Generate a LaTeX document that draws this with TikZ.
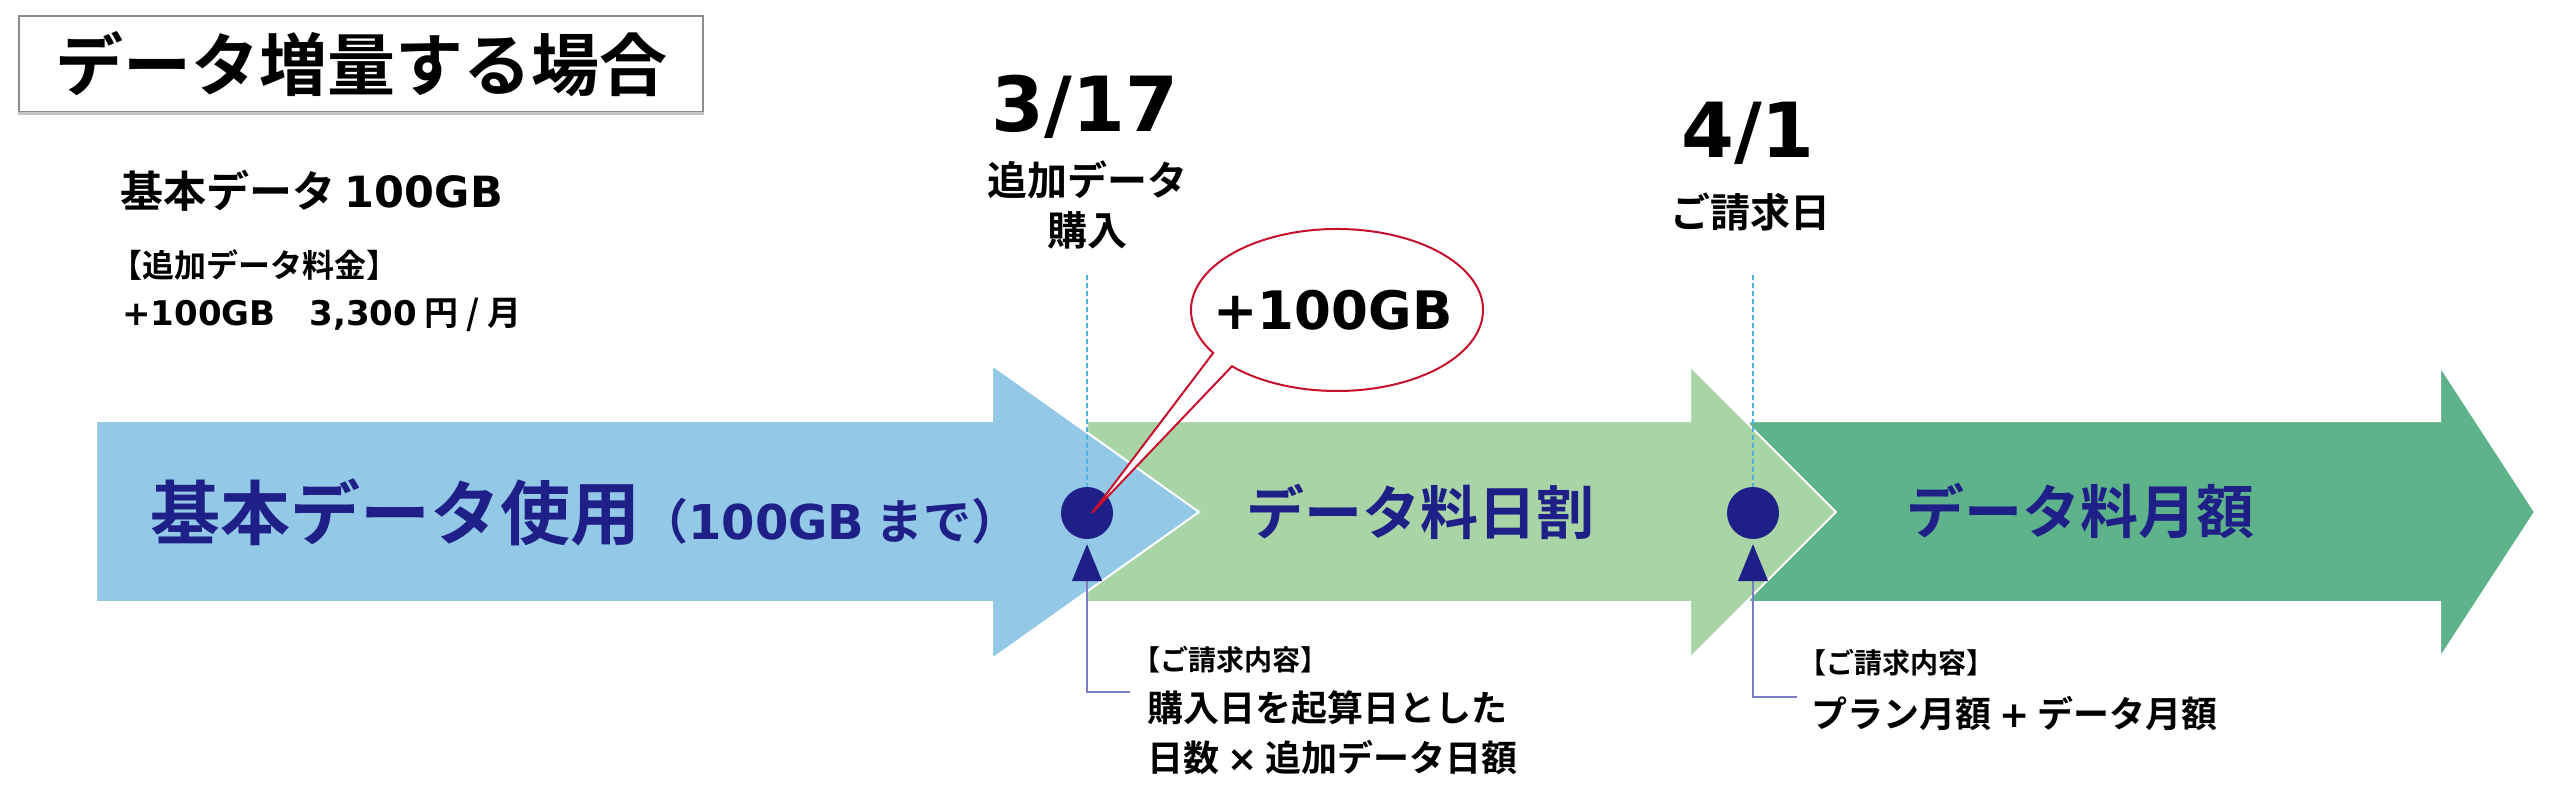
\documentclass[tikz,border=0pt]{standalone}
\usepackage{fontspec}
\setmainfont{Noto Sans CJK JP}[BoldFont={Noto Sans CJK JP Bold}]
\newfontfamily\latfont{DejaVu Sans}
\usepackage{tikz}
\usetikzlibrary{arrows.meta,positioning}

\definecolor{navy}{HTML}{1F1F88}
\definecolor{skyblue}{HTML}{93C8E6}
\definecolor{lightgreen}{HTML}{A9D4A5}
\definecolor{darkgreen}{HTML}{5EB38B}
\definecolor{bubblered}{HTML}{C8102E}
\definecolor{guideblue}{HTML}{4FB3DD}
\definecolor{billlinecol}{HTML}{7C7CC4}
\definecolor{framegray}{HTML}{8C8C8C}
\definecolor{shadowgray}{HTML}{C4C4C4}

\newcommand{\fsize}[2][1.25]{\fontsize{#2}{#1\dimexpr #2pt\relax}\selectfont\bfseries}
\newcommand{\latn}[1]{{\latfont #1}}

\begin{document}
\begin{tikzpicture}[x=1pt,y=-1pt,
   every node/.style={inner sep=0pt},
   phase/.style={draw=white,line width=2pt},
   dot/.style={circle,fill=navy,minimum size=52pt},
   guide/.style={guideblue,line width=1.2pt,dash pattern=on 5pt off 3pt},
   billline/.style={billlinecol,line width=1.2pt,-{Triangle[length=37pt,width=30pt,color=navy]}},
   bubble/.style={draw=bubblered,fill=white,line width=2pt,line join=miter},
   inarrow/.style={text=navy,font=\fsize{58}},
   date/.style={font=\fsize{76}\latfont},
   txt/.style={font=\fsize{40}},
   note/.style={font=\fsize[1.39]{36},align=left}]
  \useasboundingbox (0,0) rectangle (2564,805);

  % three phases, drawn back to front
  \fill[darkgreen,phase] (1749,421) -- (2440,421) -- (2440,366) -- (2535,512)
    -- (2440,658) -- (2440,602) -- (1749,602) -- cycle;
  \fill[lightgreen,phase] (1087,421) -- (1690,421) -- (1690,366) -- (1836,512)
    -- (1690,658) -- (1690,602) -- (1087,602) -- cycle;
  \fill[skyblue,phase] (96,421) -- (992,421) -- (992,365) -- (1199,512)
    -- (992,659) -- (992,602) -- (96,602) -- cycle;

  \node[inarrow,anchor=west,font=\fsize{70}] (basetxt) at (150,512)
    {基本データ使用{\fsize{48}（\latn{100GB} まで）}};
  \node[inarrow] (dailytxt) at (1420,512) {データ料日割};
  \node[inarrow] (monthtxt) at (2080,511) {データ料月額};

  % title and plan
  \node[draw=framegray,line width=2pt,minimum width=684pt,minimum height=96pt,
    font=\fsize{68}] (title) at (361,64) {データ増量する場合};
  \draw[shadowgray,line width=3pt] ([yshift=-1pt]title.south west) -- ([yshift=-1pt]title.south east);
  \node[font=\fsize{43},anchor=west] (base) at (120,191) {基本データ \latn{100GB}};
  \node[font=\fsize{32},anchor=west] (addhead) at (110,265) {【追加データ料金】};
  \node[font=\fsize{34},anchor=west] (addprice) at (122,315) {\latn{+100GB}　\latn{3,300} 円 / 月};

  % dates
  \node[date] (d317) at (1085,107) {3/17};
  \node[txt,align=center] (buylbl) at (1087,205) {追加データ\\購入};
  \node[date] (d41) at (1748,133) {4/1};
  \node[txt] (billlbl) at (1750,212) {ご請求日};

  \coordinate (buytop) at (1087,275);
  \coordinate (billtop) at (1753,275);
  \draw[guide] (buytop) -- (1087,513);
  \draw[guide] (billtop) -- (1753,513);
  \node[dot] (buy) at (1087,513) {};
  \node[dot] (bill) at (1753,513) {};

  % speech bubble
  \coordinate (bubblec) at (1337,310);
  \draw[bubble] ([shift={(136:146 and 81)}]bubblec) -- ([xshift=5pt]buy.center)
    -- ([shift={(148:146 and 81)}]bubblec)
    arc[start angle=148,end angle=496,x radius=146,y radius=81] -- cycle;
  \node[font=\fsize{53}\latfont] (extra) at ([xshift=-4pt]bubblec) {+100GB};

  % billing notes
  \coordinate (buyend) at (1130,692);
  \coordinate (billend) at (1797,697);
  \draw[billline] (buyend) -| ([yshift=-5pt]buy.south);
  \draw[billline] (billend) -| ([yshift=-5pt]bill.south);
  \node[font=\fsize{28},anchor=west] (bill1head) at (1132,660) {【ご請求内容】};
  \node[note,anchor=north west] (bill1body) at (1147,690) {購入日を起算日とした\\日数 \latn{×} 追加データ日額};
  \node[font=\fsize{28},anchor=west] (bill2head) at (1798,663) {【ご請求内容】};
  \node[note,anchor=north west] (bill2body) at (1811,696) {プラン月額 \latn{+} データ月額};
\end{tikzpicture}
\end{document}
